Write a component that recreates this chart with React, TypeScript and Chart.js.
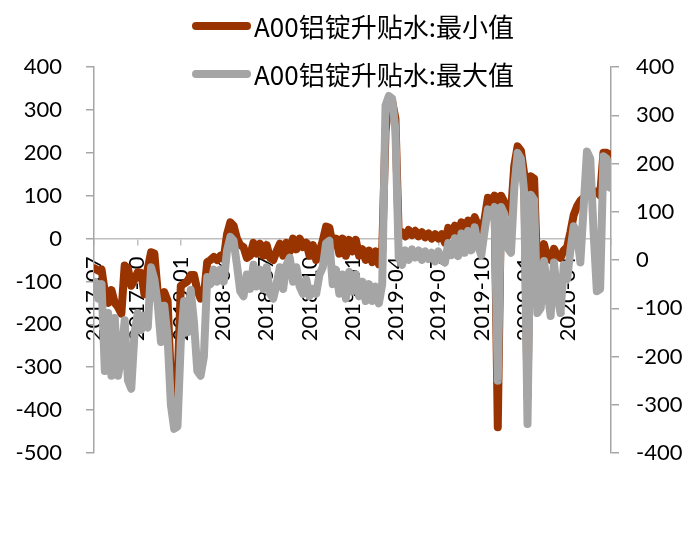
import React, { useEffect, useRef } from 'react';
import { Chart, registerables } from 'chart.js';

Chart.register(...registerables);

// Series names
const minLabel = 'A00铝锭升贴水:最小值';
const maxLabel = 'A00铝锭升贴水:最大值';

// Date axis: days since 2017-07-01 for the quarter ticks, and their labels
const quarterDays = [0, 92, 184, 274, 365, 457, 549, 639, 730, 822, 914, 1005, 1096];
const quarterLabels = ['2017-07', '2017-10', '2018-01', '2018-04', '2018-07', '2018-10', '2019-01', '2019-04', '2019-07', '2019-10', '2020-01', '2020-04', ''];

// Weekly observations (first on 2017-07-03), min series on the left axis
const minValues = [
  -70, -75, -72, -125, -150, -120, -150, -160, -175, -63,
  -70, -110, -95, -78, -80, -130, -70, -32, -35, -125,
  -140, -125, -145, -330, -380, -340, -110, -105, -100, -85,
  -85, -120, -140, -135, -55, -50, -43, -50, -40, -48,
  10, 38, 30, 0, -15, -20, -45, -40, -10, -35,
  -12, -40, -15, -45, -50, -30, -12, -40, -10, -30,
  0, -25, 0, -20, -10, -40, -15, -50, -30, -5,
  28, 25, -15, 0, -35, 0, -40, -3, -30, -3,
  -40, -25, -50, -28, -55, -30, -60, -30, 250, 325,
  320, 280, 5, 15, 5, 20, 8, 18, 5, 15,
  3, 12, 0, 10, 0, 10, -10, 25, 10, 30,
  12, 38, 20, 42, 25, 50, 30, 20, 45, 95,
  85, 100, -440, 100, 85, 65, 60, 170, 215, 205,
  150, -370, 145, 140, -90, -60, -13, -45, -50, -24,
  -40, -45, -27, -20, 15, 55, 75, 88, 95, 100,
  108, 110, 110, 100, 200, 200, 195,
];

// Max series on the right axis
const maxValues = [
  -45, -80, -50, -230, -110, -240, -120, -240, -200, -125,
  -250, -267, -150, -110, -145, -115, -140, -15, -40, -90,
  -170, -95, -160, -300, -350, -345, -170, -85, -150, -62,
  -130, -230, -240, -200, -35, -50, -20, -45, -20, -45,
  20, 48, 40, -10, -65, -75, -30, -60, -10, -55,
  -20, -60, -15, -70, -80, -50, -15, -60, -10, 5,
  -45, -15, -55, -70, -40, -75, -60, -70, -30, -15,
  35, 40, -50, -20, -70, -30, -80, -25, -65, -30,
  -75, -45, -85, -50, -85, -55, -90, -50, 320, 340,
  335, 270, 5, -10, 20, 0, 22, 5, 20, 0,
  18, 2, 15, -3, 18, 0, -5, 35, 10, 45,
  8, 55, 15, 60, 20, 68, 30, 10, 60, 105,
  90, 110, -250, 110, 95, 25, 15, 150, 222, 210,
  140, -340, 135, 125, -110, -100, -2, -60, -116, -5,
  -70, -110, -10, -40, 20, 70, 55, -5, 110, 225,
  210, 60, -65, -60, 215, 210, 150,
];

// Day offset (since 2017-07-01) of each weekly observation
const obsDays = minValues.map((_, i) => 2 + 7 * i);

const minColor = '#993300';
const maxColor = '#A5A5A5';
const tickFont = 'Lato, "Liberation Sans", sans-serif';
const legendFont = '"Noto Sans CJK SC", sans-serif';

function LegendRow({ top, color, text }: { top: number; color: string; text: string }) {
  return (
    <div
      style={{
        position: 'absolute',
        left: 192,
        top: top - 20,
        height: 40,
        display: 'flex',
        alignItems: 'center',
        whiteSpace: 'nowrap',
      }}
    >
      <span style={{ display: 'inline-block', width: 59, height: 8, borderRadius: 4, background: color }} />
      <span style={{ marginLeft: 3, fontFamily: legendFont, fontSize: 26, lineHeight: '40px', color: '#000' }}>{text}</span>
    </div>
  );
}

export default function App() {
  const canvasRef = useRef<HTMLCanvasElement>(null);

  useEffect(() => {
    const canvas = canvasRef.current;
    if (!canvas) return;
    const chart = new Chart(canvas, {
      type: 'line',
      data: {
        datasets: [
          {
            label: minLabel,
            data: minValues.map((v, i) => ({ x: obsDays[i], y: v })),
            yAxisID: 'y',
            borderColor: minColor,
            backgroundColor: minColor,
            borderWidth: 8,
            pointRadius: 0,
            tension: 0,
            borderJoinStyle: 'round',
            borderCapStyle: 'round',
            order: 1,
          },
          {
            label: maxLabel,
            data: maxValues.map((v, i) => ({ x: obsDays[i], y: v })),
            yAxisID: 'y1',
            borderColor: maxColor,
            backgroundColor: maxColor,
            borderWidth: 8,
            pointRadius: 0,
            tension: 0,
            borderJoinStyle: 'round',
            borderCapStyle: 'round',
            order: 0,
          },
        ],
      },
      options: {
        animation: false,
        responsive: false,
        maintainAspectRatio: false,
        layout: { padding: { top: 67, bottom: 103, left: 0, right: 0 } },
        plugins: {
          legend: { display: false },
          tooltip: { enabled: false },
        },
        scales: {
          x: {
            type: 'linear',
            min: 0,
            max: 1096,
            position: { y: 0 } as any,
            afterBuildTicks: (scale: any) => {
              scale.ticks = quarterDays.map((v) => ({ value: v }));
            },
            ticks: {
              autoSkip: false,
              minRotation: 90,
              maxRotation: 90,
              padding: 12,
              color: '#000',
              font: { family: tickFont, size: 22 },
              callback: (value: any) => {
                const i = quarterDays.indexOf(Number(value));
                return i >= 0 ? quarterLabels[i] : '';
              },
            },
            grid: { drawOnChartArea: false, drawTicks: true, tickLength: 6, color: '#bfbfbf', lineWidth: 1.5 },
            border: { display: true, color: '#bfbfbf', width: 1.5 },
          },
          y: {
            type: 'linear',
            position: 'left',
            min: -500,
            max: 400,
            ticks: { stepSize: 100, padding: 24, color: '#000', font: { family: tickFont, size: 22 } },
            grid: { drawOnChartArea: false, tickLength: 8, color: '#a6a6a6', lineWidth: 1.5 },
            border: { display: true, color: '#a6a6a6', width: 1.5 },
            afterFit: (scale: any) => {
              scale.width = 94;
            },
          },
          y1: {
            type: 'linear',
            position: 'right',
            min: -400,
            max: 400,
            ticks: { stepSize: 100, padding: 17, color: '#000', font: { family: tickFont, size: 22 } },
            grid: { drawOnChartArea: false, tickLength: 8, color: '#a6a6a6', lineWidth: 1.5 },
            border: { display: true, color: '#a6a6a6', width: 1.5 },
            afterFit: (scale: any) => {
              scale.width = 87;
            },
          },
        },
      },
    });
    return () => chart.destroy();
  }, []);

  return (
    <div style={{ position: 'absolute', left: 0, top: 0, width: 698, height: 556, background: '#fff', overflow: 'hidden' }}>
      <canvas ref={canvasRef} width={698} height={556} style={{ position: 'absolute', left: 0, top: 0, width: 698, height: 556 }} />
      <LegendRow top={26} color={minColor} text={minLabel} />
      <LegendRow top={74} color={maxColor} text={maxLabel} />
    </div>
  );
}
